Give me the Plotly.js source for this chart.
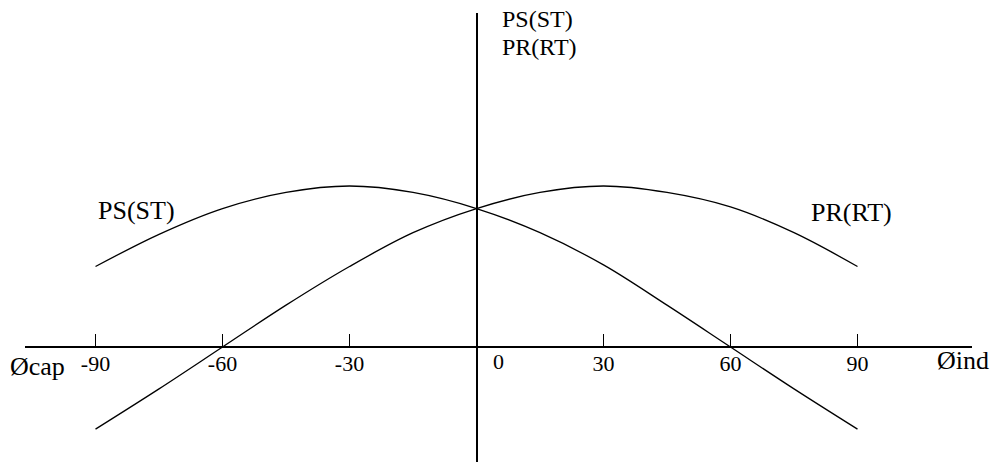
<!DOCTYPE html>
<html>
<head>
<meta charset="utf-8">
<script src="https://cdn.plot.ly/plotly-3.0.1.min.js"></script>
<style>
  html, body { margin: 0; padding: 0; background: #fff; }
  #chart { width: 995px; height: 463px; }
</style>
</head>
<body>
<div id="chart"></div>
<script>
// Load angle in degrees (capacitive to the left, inductive to the right)
const angles = [-90, -75, -60, -45, -30, -15, 0, 15, 30, 45, 60, 75, 90];
// Sending-end power curve PS(ST)
const psValues = [0.50, 0.70, 0.86, 0.96, 1.00, 0.96, 0.86, 0.71, 0.51, 0.26, 0.00, -0.26, -0.51];
// Receiving-end power curve PR(RT)
const prValues = [-0.51, -0.26, 0.00, 0.26, 0.50, 0.71, 0.86, 0.96, 1.00, 0.96, 0.87, 0.71, 0.50];
// Tick marks along the angle axis
const tickAngles = [-90, -60, -30, 30, 60, 90];
const tickLabels = ['-90', '-60', '-30', '30', '60', '90'];

const serif = 'Liberation Serif, Times New Roman, serif';
const xRange = [-106.66, 117.05];
const yRange = [-0.714, 2.0745];
const axisPos = (0 - yRange[0]) / (yRange[1] - yRange[0]);

const curve = (y, name) => ({
  x: angles, y: y, name: name, type: 'scatter', mode: 'lines',
  line: { color: '#000', width: 1.3, shape: 'spline', smoothing: 1 },
  hoverinfo: 'skip'
});

const txt = (x, y, text, size, xanchor, xref) => ({
  x: x, y: y, text: text, showarrow: false,
  xanchor: xanchor || 'center', yanchor: 'middle',
  xref: xref || 'x', yref: 'y',
  font: { family: serif, size: size, color: '#000' }
});

const layout = {
  width: 995, height: 463,
  margin: { l: 25, r: 23, t: 13, b: 1, pad: 0 },
  paper_bgcolor: '#fff', plot_bgcolor: '#fff',
  showlegend: false,
  xaxis: {
    range: xRange, anchor: 'free', position: axisPos,
    showline: true, linecolor: '#000', linewidth: 2,
    showgrid: false,
    zeroline: true, zerolinecolor: '#000', zerolinewidth: 2,
    ticks: 'inside', ticklen: 12, tickwidth: 1, tickcolor: '#000',
    tickvals: tickAngles, ticktext: tickLabels,
    ticklabelstandoff: -3,
    tickfont: { family: serif, size: 22, color: '#000' },
    fixedrange: true
  },
  yaxis: {
    range: yRange, showline: false, showgrid: false, zeroline: false,
    showticklabels: false, ticks: '', fixedrange: true
  },
  annotations: [
    txt(5.1, -0.09, '0', 22),
    txt(-80.4, 0.848, 'PS(ST)', 26),
    txt(88.5, 0.835, 'PR(RT)', 26),
    txt(5.55, 2.037, 'PS(ST)', 24, 'left'),
    txt(5.55, 1.863, 'PR(RT)', 24, 'left'),
    txt(-0.018, -0.118, 'Øcap', 26, 'left', 'paper'),
    txt(108.3, -0.081, 'Øind', 26, 'left')
  ]
};

Plotly.newPlot('chart', [curve(psValues, 'PS(ST)'), curve(prValues, 'PR(RT)')], layout,
  { staticPlot: true, displayModeBar: false });
</script>
</body>
</html>
